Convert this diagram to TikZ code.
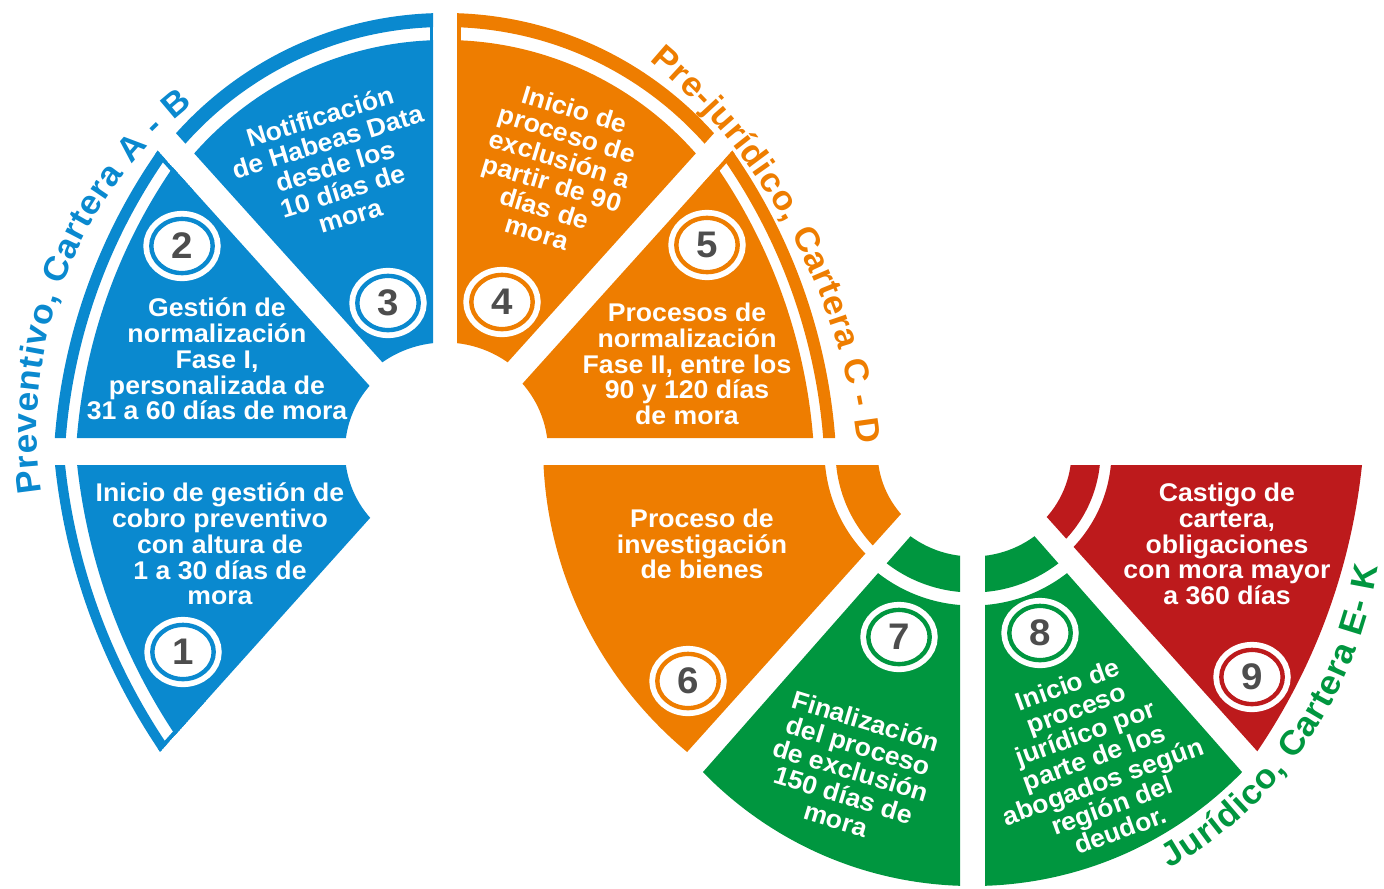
\documentclass[tikz,border=0pt]{standalone}
\usepackage{fontspec}
\setmainfont{Liberation Sans}[FakeStretch=1.04]
\usetikzlibrary{shapes.geometric,decorations.text}

\definecolor{azul}{HTML}{0A89CF}
\definecolor{naranja}{HTML}{EE7D00}
\definecolor{verde}{HTML}{00963F}
\definecolor{rojo}{HTML}{BD1A1C}
\definecolor{gris}{HTML}{4D4D4D}

\begin{document}
\begin{tikzpicture}[
    x=0.5pt,
    y=-0.5pt,
    cuerpo/.style={text=white, align=center, inner sep=0pt,
      font=\bfseries\fontsize{12.8}{12.9}\selectfont},
    num/.style={ellipse, draw=#1, fill=white, line width=2.2pt,
      minimum width=30.7pt, minimum height=27.1pt, inner sep=0pt,
      preaction={draw=white, line width=8pt},
      text=gris, font=\bfseries\fontsize{18.5}{18.5}\selectfont},
    sector/.style={fill=#1, even odd rule},
    rotulo/.style={decorate, decoration={text along path, text align=fit to path, text color=#1}}
  ]
    \useasboundingbox (0,0) rectangle (1384,888);

    % Preventivo: sector 1
    \begin{scope}
      \clip (0,465) -- (417.6,465) -- (100,818.8) -- (0,818.8) -- cycle;
      \path[sector=azul] (682,398) circle[radius=630.5] circle[radius=620.5] circle[radius=608.5]
        (445,451.5) circle[radius=100];
      \begin{scope}
        \clip (682,398) circle[radius=630.5];
        \fill[azul] (133.3,781.8) -- (206.8,699.9) -- (203.8,697.2) -- (130.3,779.1) -- cycle;
      \end{scope}
    \end{scope}

    % Preventivo: sector 2
    \begin{scope}
      \clip (0,438) -- (416.5,438) -- (67,50) -- (0,50) -- cycle;
      \path[sector=azul] (636,484) circle[radius=583] circle[radius=572] circle[radius=561]
        (445,451.5) circle[radius=100];
      \begin{scope}
        \clip (636,484) circle[radius=583];
        \fill[azul] (193.1,189.8) -- (146.2,137.8) -- (143.2,140.5) -- (190.1,192.5) -- cycle;
      \end{scope}
    \end{scope}

    % Preventivo: sector 3
    \begin{scope}
      \clip (433,-10) -- (433,418.5) -- (47,-10) -- cycle;
      \path[sector=azul] (445,374) circle[radius=361] circle[radius=347] circle[radius=334]
        (445,451.5) circle[radius=109];
      \fill[azul] (429.5,20) rectangle (433,60);
    \end{scope}

    % Pre-juridico: sector 4
    \begin{scope}
      \clip (457,-10) -- (457,418.5) -- (843,-10) -- cycle;
      \path[sector=naranja] (445,374) circle[radius=361] circle[radius=347] circle[radius=334]
        (445,451.5) circle[radius=109];
      \fill[naranja] (457,20) rectangle (460.5,60);
    \end{scope}

    % Pre-juridico: sector 5
    \begin{scope}
      \clip (890,438) -- (473.5,438) -- (823,50) -- (890,50) -- cycle;
      \path[sector=naranja] (254,484) circle[radius=583] circle[radius=571] circle[radius=561]
        (445,451.5) circle[radius=103];
      \begin{scope}
        \clip (254,484) circle[radius=583];
        \fill[naranja] (696.9,189.8) -- (743.8,137.8) -- (746.8,140.5) -- (699.9,192.5) -- cycle;
      \end{scope}
    \end{scope}

    % Pre-juridico: sector 6
    \begin{scope}
      \clip (500,465) -- (945,465) -- (647,796.6) -- (500,796.6) -- cycle;
      \path[sector=naranja] (942,445) circle[radius=399]
        (972.5,451.5) circle[radius=148] circle[radius=137] circle[radius=95];
    \end{scope}

    % Juridico: sector 7
    \begin{scope}
      \clip (960,480) -- (960,900) -- (650,900) -- (650,832.2) -- cycle;
      \path[sector=verde] (972.5,510) circle[radius=376]
        (972.5,451.5) circle[radius=154] circle[radius=141] circle[radius=105];
    \end{scope}

    % Juridico: sector 8
    \begin{scope}
      \clip (985,480) -- (985,900) -- (1295,900) -- (1295,832.2) -- cycle;
      \path[sector=verde] (972.5,510) circle[radius=376]
        (972.5,451.5) circle[radius=154] circle[radius=141] circle[radius=105];
    \end{scope}

    % Juridico: sector 9
    \begin{scope}
      \clip (1445,465) -- (1000,465) -- (1298,796.6) -- (1445,796.6) -- cycle;
      \path[sector=rojo] (735,398) circle[radius=630.5]
        (972.5,451.5) circle[radius=139] circle[radius=128] circle[radius=99];
    \end{scope}

    % numeros
    \node[num=azul] (n1) at (183,652) {1};
    \node[num=azul] (n2) at (182,246) {2};
    \node[num=azul] (n3) at (388,303) {3};
    \node[num=naranja] (n4) at (502,302) {4};
    \node[num=naranja] (n5) at (707,245) {5};
    \node[num=naranja] (n6) at (688,681) {6};
    \node[num=verde] (n7) at (899,637) {7};
    \node[num=verde] (n8) at (1040,633) {8};
    \node[num=rojo] (n9) at (1252,677) {9};

    % textos
    \node[cuerpo] (t1) at (220,544) {Inicio de gestión de\\cobro preventivo\\con altura de\\1 a 30 días de\\mora};
    \node[cuerpo] (t2) at (217,359) {Gestión de\\normalización\\Fase I,\\personalizada de\\31 a 60 días de mora};
    \node[cuerpo, rotate=17] (t3) at (335,166) {Notificación\\de Habeas Data\\desde los\\10 días de\\mora};
    \node[cuerpo, rotate=-17] (t4) at (556,171) {Inicio de\\proceso de\\exclusión a\\partir de 90\\días de\\mora};
    \node[cuerpo] (t5) at (687,364) {Procesos de\\normalización\\Fase II, entre los\\90 y 120 días\\de mora};
    \node[cuerpo] (t6) at (702,544) {Proceso de\\investigación\\de bienes};
    \node[cuerpo, rotate=-17] (t7) at (851,770) {Finalización\\del proceso\\de exclusión\\150 días de\\mora};
    \node[cuerpo, rotate=20] (t8) at (1094,757) {Inicio de\\proceso\\jurídico por\\parte de los\\abogados según\\región del\\deudor.};
    \node[cuerpo] (t9) at (1227,544) {Castigo de\\cartera,\\obligaciones\\con mora mayor\\a 360 días};

    % rotulos
    \path[rotulo=azul, decoration={text={|\bfseries\fontsize{17}{17}\selectfont|Preventivo, Cartera A - B}}]
      (42.1,492.6) arc[start angle=171, end angle=231.5, radius=413];
    \path[rotulo=naranja, decoration={text={|\bfseries\fontsize{17}{17}\selectfont|Pre-jurídico, Cartera C - D}}]
      (649.7,60.7) arc[start angle=309.8, end angle=353.2, radius=590];
    \path[rotulo=verde, decoration={text={|\bfseries\fontsize{17}{17}\selectfont|Jurídico, Cartera E- K}}]
      (1169.9,868.8) arc[start angle=60.1, end angle=9, radius=425.3];
  \end{tikzpicture}
\end{document}
